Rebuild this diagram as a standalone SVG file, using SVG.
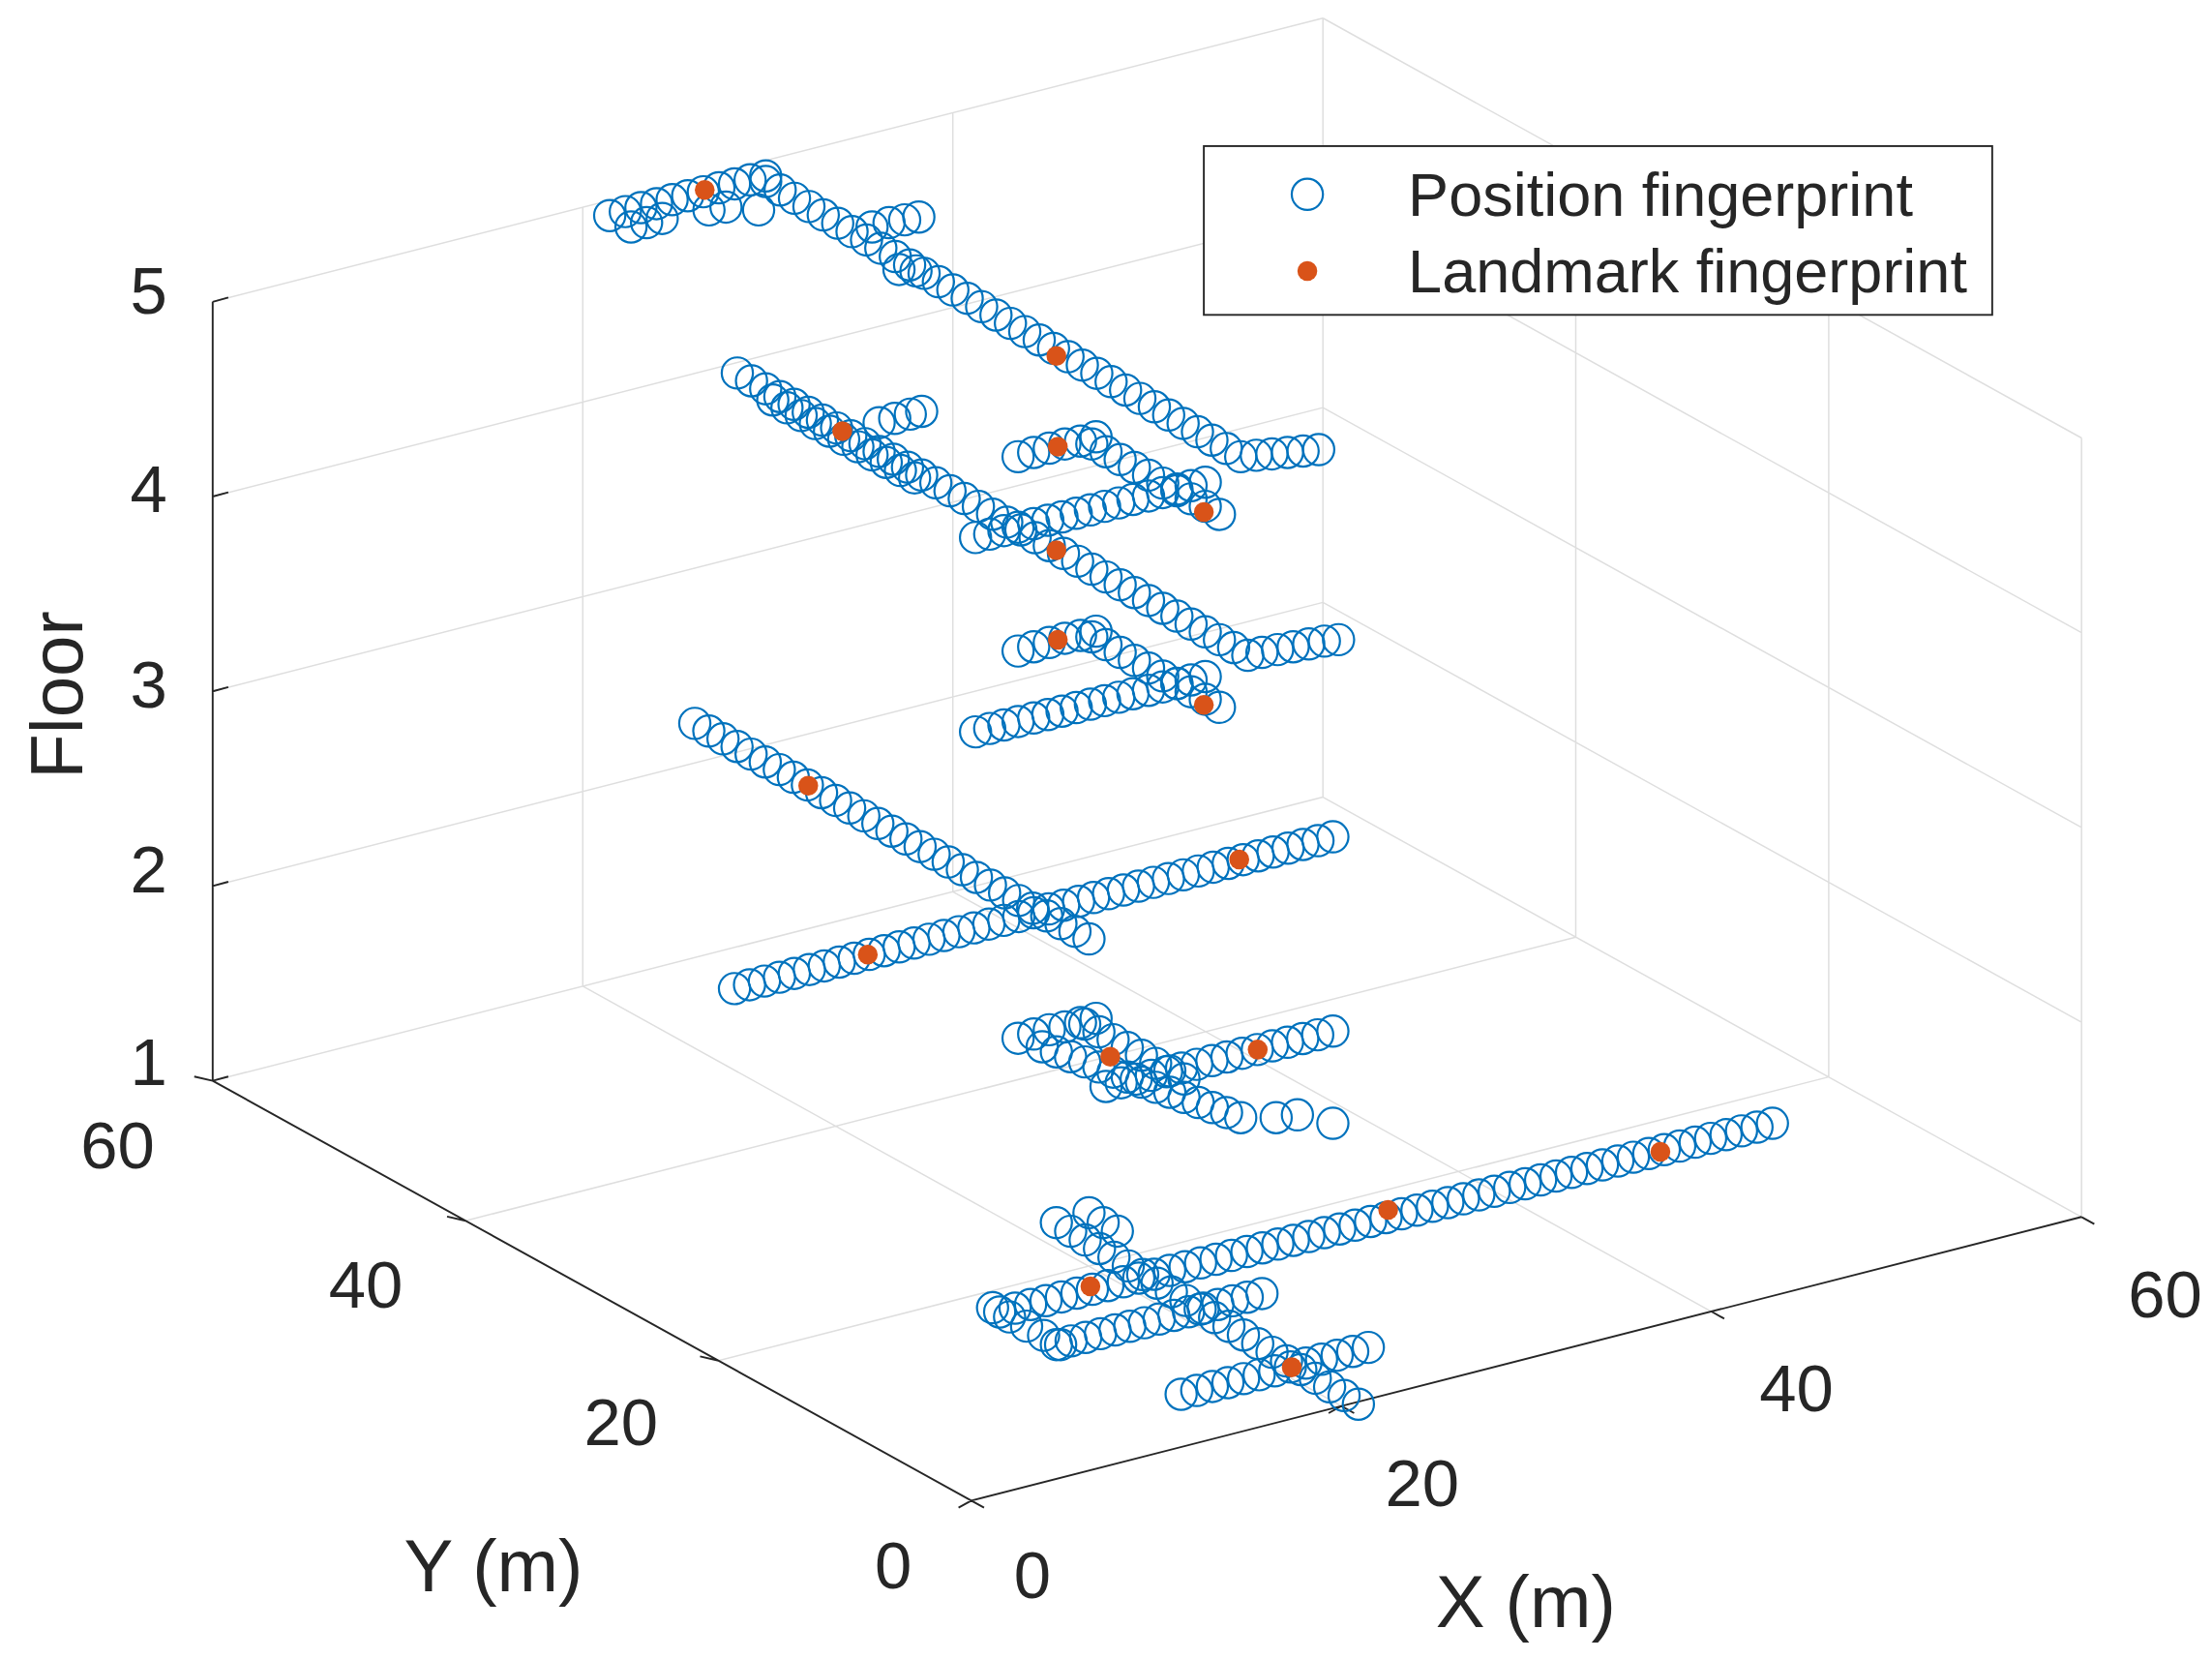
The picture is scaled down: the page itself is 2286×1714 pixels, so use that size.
<svg xmlns="http://www.w3.org/2000/svg" width="2286" height="1714" viewBox="0 0 2286 1714">
<style>
.g{stroke:#dedede;stroke-width:1;fill:none}
.ax{stroke:#262626;stroke-width:1.3;fill:none}
.t{font-family:"Liberation Sans",Arial,sans-serif;font-size:47px;fill:#262626}
.l{font-size:52px}
.s{fill:none;stroke:none;marker-start:url(#o);marker-mid:url(#o);marker-end:url(#o)}
.lm{fill:#D95319}
</style>
<defs>
<marker id="o" markerUnits="userSpaceOnUse" markerWidth="30" markerHeight="30" refX="15" refY="15" overflow="visible"><circle cx="15" cy="15" r="11" fill="none" stroke="#0072BD" stroke-width="1.5"/></marker>
</defs>
<rect width="2286" height="1714" fill="#fff"/>
<g transform="scale(1.46538)">
<g id="grid">
<path class="g" d="M150,624.7L933,424.7M150,487.4L933,287.4M150,350.1L933,150.1M150,212.8L933,12.8M411,695.3V146M672,628.7V79.5M933,562V12.8M933,424.7L1468,720.7M933,287.4L1468,583.4M933,150.1L1468,446.1M933,12.8L1468,308.8M933,562L1468,858M1111.3,660.7V111.5M1289.7,759.3V210.1M1468,858V308.8M506.7,959.3L1289.7,759.3M328.3,860.7L1111.3,660.7M946,991.3L411,695.3M1207,924.7L672,628.7M150,762L933,562"/>
</g>
<g id="axes">
<path class="ax" d="M685,1058L1468,858M685,1058L150,762M150,762V212.8M150,762l11,-3M150,624.7l11,-3M150,487.4l11,-3M150,350.1l11,-3M150,212.8l11,-3M685,1058l-9,5M946,991.3l-9,5M946,991.3l9,5M1207,924.7l9,5M1468,858l9,5M685,1058l9,5M506.7,959.3l-13,-3M328.3,860.7l-13,-3M150,762l-13,-3"/>
<text class="t" x="118" y="221" text-anchor="end">5</text>
<text class="t" x="118" y="361" text-anchor="end">4</text>
<text class="t" x="118" y="499" text-anchor="end">3</text>
<text class="t" x="118" y="629" text-anchor="end">2</text>
<text class="t" x="118" y="765" text-anchor="end">1</text>
<text class="t" x="83" y="824" text-anchor="middle">60</text>
<text class="t" x="258" y="922" text-anchor="middle">40</text>
<text class="t" x="438" y="1019" text-anchor="middle">20</text>
<text class="t" x="630" y="1120" text-anchor="middle">0</text>
<text class="t" x="728" y="1127" text-anchor="middle">0</text>
<text class="t" x="1003" y="1062" text-anchor="middle">20</text>
<text class="t" x="1267" y="995" text-anchor="middle">40</text>
<text class="t" x="1527" y="929" text-anchor="middle">60</text>
<text class="t l" x="348" y="1122" text-anchor="middle">Y (m)</text>
<text class="t l" x="1076" y="1147" text-anchor="middle">X (m)</text>
<text class="t l" transform="translate(58,490) rotate(-90)" text-anchor="middle">Floor</text>
</g>
<g id="connectors">
<polyline class="s" points="430,152 441,149.2 452,146.4 463,143.6 474,140.8 485,138 496,135.2 507,132.4 518,129.6 529,126.8 540,124"/>
<polyline class="s" points="445,160 456,157 467,154 500,148 512,146 535,148"/>
<polyline class="s" points="540,128 550.2,133.9 560.3,139.8 570.5,145.6 580.6,151.5 590.8,157.4 600.9,163.3 611.1,169.2 621.2,175 631.4,180.9 641.5,186.8 651.7,192.7 661.8,198.6 672,204.4 682.1,210.3 692.3,216.2 702.4,222.1 712.6,228 722.7,233.8 732.9,239.7 743,245.6 753.2,251.5 763.3,257.4 773.5,263.2 783.6,269.1 793.8,275 803.9,280.9 814.1,286.8 824.2,292.6 834.4,298.5 844.5,304.4 854.7,310.3 864.8,316.2 875,322"/>
<polyline class="s" points="615,160 627,157 638,155 648,153"/>
<polyline class="s" points="634,190 646,191 886,321 897,320 908,319 919,318 930,317"/>
<polyline class="s" points="520,263 530,268.5 540,274.1 550,279.6 560,285.1 570,290.7 580,296.2 590,301.7 600,307.2 610,312.8 620,318.3 630,323.8 640,329.4 650,334.9 660,340.4 670,346 680,351.5 690,357 700,362.5 710,368.1 720,373.6 730,379.1 740,384.7 750,390.2 760,395.7 770,401.3 780,406.8 790,412.3 800,417.8 810,423.4 820,428.9 830,434.4 840,440 850,445.5 860,451 870,456.6 880,462"/>
<polyline class="s" points="545,282 555,287.5 565,293 575,298.6 585,304 595,309.7 605,315 615,320.7 625,326 635,331.7 645,337"/>
<polyline class="s" points="620,298 631,295 642,292 650,290"/>
<polyline class="s" points="890,460 901,458 912,456 923,454 934,452 944,451"/>
<polyline class="s" points="718,322 729,319 740,316 751,313 762,311 773,308"/>
<polyline class="s" points="770,313 780,318.5 790,324 800,329.6 810,335 820,340.6 830,346 840,351.7 850,357 860,362.7"/>
<polyline class="s" points="688,379 698,376.6 708,374.1 718,371.7 729,369.2 739,366.8 749,364.4 759,361.9 769,359.5 779,357 789,354.6 799,352.1 810,349.7 820,347.3 830,344.8 840,342.4 850,340"/>
<polyline class="s" points="718,459 729,456 740,453 751,450 762,448 773,445"/>
<polyline class="s" points="770,449 780,454.5 790,460 800,465.6 810,471 820,476.6 830,482 840,487.7 850,493 860,498.7"/>
<polyline class="s" points="688,516 698,513.6 708,511.1 718,508.7 729,506.2 739,503.8 749,501.4 759,498.9 769,496.5 779,494 789,491.6 799,489.1 810,486.7 820,484.3 830,481.8 840,479.4 850,477"/>
<polyline class="s" points="490,510 499.9,515.4 509.9,520.9 519.8,526.3 529.7,531.7 539.7,537.2 549.6,542.6 559.5,548 569.4,553.4 579.4,558.9 589.3,564.3 599.2,569.7 609.2,575.2 619.1,580.6 629,586 638.9,591.5 648.9,596.9 658.8,602.3 668.7,607.7 678.7,613.2 688.6,618.6 698.5,624 708.5,629.5 718.4,634.9 728.3,640.3 738.2,645.8 748.2,651.2 758.1,656.6 768,662"/>
<polyline class="s" points="518,697 528.6,694.3 539.1,691.7 549.7,689 560.2,686.3 570.8,683.6 581.3,681 591.9,678.3 602.4,675.6 613,672.9 623.5,670.3 634.1,667.6 644.6,664.9 655.2,662.2 665.7,659.6 676.3,656.9 686.8,654.2 697.4,651.5 707.9,648.9 718.5,646.2 729,643.5 739.6,640.8 750.1,638.2 760.7,635.5 771.2,632.8 781.8,630.1 792.3,627.5 802.9,624.8 813.4,622.1 824,619.4 834.5,616.8 845.1,614.1 855.6,611.4 866.2,608.7 876.7,606.1 887.3,603.4 897.8,600.7 908.4,598 918.9,595.4 929.5,592.7 940,590"/>
<polyline class="s" points="718,732 729,729 740,726 751,724 762,721 773,718"/>
<polyline class="s" points="735,738 745,741.6 755,745 765,748.7 775,752.3 785,755.9 795,759.4 805,763 815,766.6 825,770.1 835,773.7 845,777.3 855,780.9 865,784.4 875,788"/>
<polyline class="s" points="765,722 775,727.5 785,733 795,738.6 805,744 815,749.7 825,755 835,760.7"/>
<polyline class="s" points="780,766 790.7,763.4 801.3,760.8 812,758.2 822.7,755.6 833.3,753 844,750.4 854.7,747.8 865.3,745.2 876,742.6 886.7,740 897.3,737.4 908,734.8 918.7,732.2 929.3,729.6 940,727"/>
<polyline class="s" points="900,788 915,786 940,792"/>
<polyline class="s" points="705,925 715.9,922.3 726.8,919.7 737.7,917 748.6,914.4 759.5,911.7 770.4,909 781.3,906.4 792.2,903.7 803.1,901.1 814,898.4 824.9,895.7 835.8,893.1 846.7,890.4 857.6,887.8 868.5,885.1 879.4,882.4 890.3,879.8 901.2,877.1 912.1,874.5 923,871.8 933.9,869.1 944.8,866.5 955.7,863.8 966.6,861.2 977.5,858.5 988.4,855.8 999.3,853.2 1010.2,850.5 1021.1,847.9 1032,845.2 1042.9,842.5 1053.8,839.9 1064.7,837.2 1075.6,834.6 1086.5,831.9 1097.4,829.2 1108.3,826.6 1119.2,823.9 1130.1,821.3 1141,818.6 1151.9,815.9 1162.8,813.3 1173.7,810.6 1184.6,808 1195.5,805.3 1206.4,802.6 1217.3,800 1228.2,797.3 1239.1,794.7 1250,792"/>
<polyline class="s" points="745,862 755.1,868.1 765.3,874.2 775.4,880.3 785.6,886.4 795.7,892.5 805.9,898.6 816,904.7 826.1,910.8 836.3,916.9 846.4,923 856.6,929 866.7,935.1 876.9,941.2 887,947.3 897.1,953.4 907.3,959.5 917.4,965.6 927.6,971.7 937.7,977.8 947.9,983.9 958,990"/>
<polyline class="s" points="768,855 778,862 788,868"/>
<polyline class="s" points="745,948 755.4,945.4 765.7,942.9 776.1,940.3 786.4,937.7 796.8,935.1 807.1,932.6 817.5,930 827.9,927.4 838.2,924.9 848.6,922.3 858.9,919.7 869.3,917.1 879.6,914.6 890,912"/>
<polyline class="s" points="833,983 844,980.3 855,977.5 866,974.8 877,972 888,969.3 899,966.5 910,963.8 921,961 932,958.3 943,955.5 954,952.8 965,950"/>
<polyline class="s" points="700,922 712,928.5 724,935 736,941.5 748,948"/>
</g>
<g id="landmarks" class="lm">
<circle cx="497" cy="134" r="7"/><circle cx="745" cy="251" r="7"/>
<circle cx="594" cy="304" r="7"/><circle cx="746" cy="315" r="7"/><circle cx="849" cy="361" r="7"/><circle cx="745" cy="388" r="7"/>
<circle cx="746" cy="451" r="7"/><circle cx="849" cy="497" r="7"/>
<circle cx="570" cy="554" r="7"/><circle cx="612" cy="673" r="7"/><circle cx="874" cy="606" r="7"/>
<circle cx="783" cy="745" r="7"/><circle cx="887" cy="740" r="7"/>
<circle cx="979" cy="853" r="7"/><circle cx="1171" cy="812" r="7"/>
<circle cx="769" cy="907" r="7"/><circle cx="911" cy="964" r="7"/>
</g>
<g id="legend">
<rect x="849" y="103" width="556" height="119" fill="#fff" stroke="#262626" stroke-width="1.3"/>
<circle cx="922" cy="137" r="11" fill="none" stroke="#0072BD" stroke-width="1.5"/>
<circle cx="922" cy="191" r="7" fill="#D95319"/>
<text class="t" x="993" y="152" style="font-size:43px">Position fingerprint</text>
<text class="t" x="993" y="206" style="font-size:43px">Landmark fingerprint</text>
</g>
</g>
</svg>
